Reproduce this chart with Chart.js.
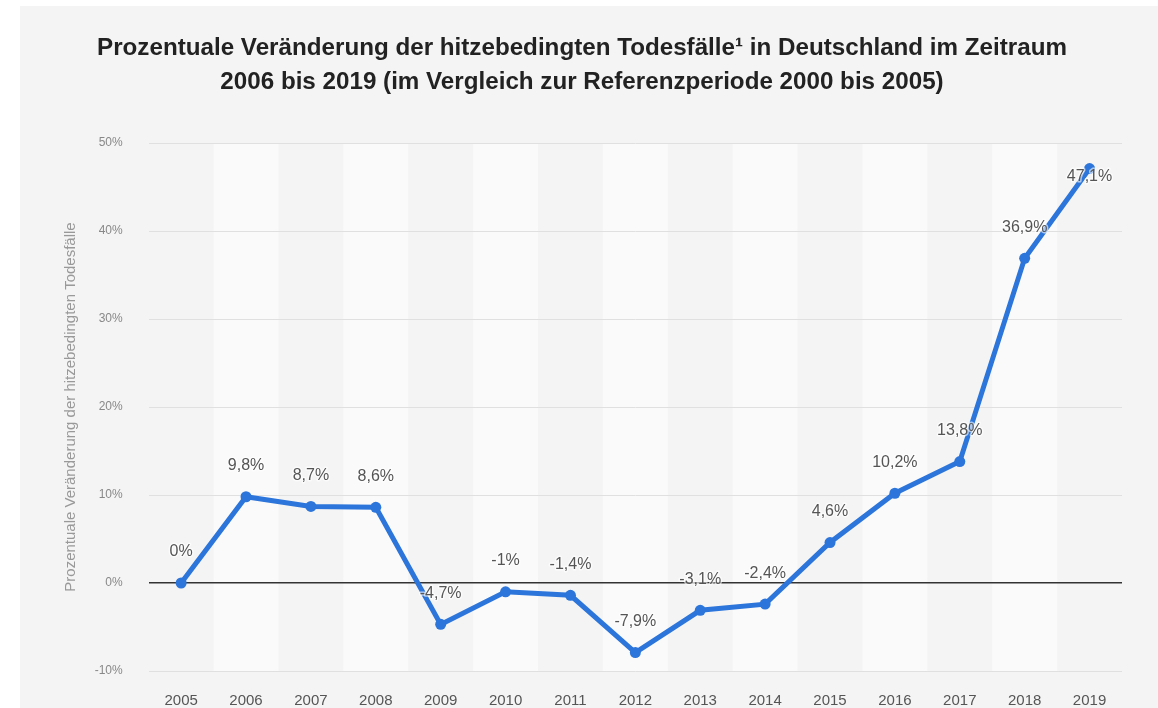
<!DOCTYPE html>
<html>
<head>
<meta charset="utf-8">
<script src="https://cdn.jsdelivr.net/npm/chart.js@4.4.0/dist/chart.umd.min.js"></script>
<style>
  html, body { margin: 0; padding: 0; background: #ffffff; }
  #wrap { width: 1158px; height: 708px; }
</style>
</head>
<body>
<div id="wrap"><canvas id="chart" width="1158" height="708"></canvas></div>
<script>
'use strict';

let years=['2005','2006','2007','2008','2009','2010','2011','2012','2013','2014','2015','2016','2017','2018','2019'];
let changes=[0,9.8,8.7,8.6,-4.7,-1,-1.4,-7.9,-3.1,-2.4,4.6,10.2,13.8,36.9,47.1];
let yTicks=[-10,0,10,20,30,40,50];

let titleLines=[
    'Prozentuale Veränderung der hitzebedingten Todesfälle¹ in Deutschland im Zeitraum',
    '2006 bis 2019 (im Vergleich zur Referenzperiode 2000 bis 2005)'
];
let yTitle='Prozentuale Veränderung der hitzebedingten Todesfälle';

let fontFam='"Liberation Sans", Arial, Helvetica, sans-serif';

function fmt(v)
{
    return String(v).replace('.',',')+'%';
}

// page background, title and alternating column bands
let backdrop={
    id:'backdrop',
    beforeDraw(chart)
    {
        let ctx=chart.ctx;
        let area=chart.chartArea;
        let x=chart.scales.x;
        ctx.save();
        ctx.fillStyle='#ffffff';
        ctx.fillRect(0,0,chart.width,chart.height);
        ctx.fillStyle='#f4f4f4';
        ctx.fillRect(20,6,chart.width-20,chart.height-6);

        ctx.fillStyle='#222222';
        ctx.font='bold 24.2px '+fontFam;
        ctx.textAlign='center';
        ctx.textBaseline='middle';
        ctx.fillText(titleLines[0],582,48);
        ctx.fillText(titleLines[1],582,82);

        let step=x.getPixelForValue(1)-x.getPixelForValue(0);
        ctx.fillStyle='#fafafa';
        for(let i=1;i<years.length;i+=2)
        {
            let cx=x.getPixelForValue(i);
            ctx.fillRect(cx-step/2,area.top,step,area.bottom-area.top);
        }
        ctx.restore();
    }
};

let valueLabels={
    id:'valueLabels',
    afterDatasetsDraw(chart)
    {
        let ctx=chart.ctx;
        let meta=chart.getDatasetMeta(0);
        ctx.save();
        ctx.font='16px '+fontFam;
        ctx.textAlign='center';
        ctx.textBaseline='middle';
        ctx.lineJoin='round';
        for(let i=0;i<meta.data.length;i++)
        {
            let pt=meta.data[i];
            let ly=pt.y-31;
            if(ly<chart.chartArea.top) ly=pt.y+8;
            let txt=fmt(changes[i]);
            ctx.strokeStyle='rgba(255,255,255,0.6)';
            ctx.lineWidth=3;
            ctx.strokeText(txt,pt.x,ly);
            ctx.fillStyle='#555555';
            ctx.fillText(txt,pt.x,ly);
        }
        ctx.restore();
    }
};

let ctx=document.getElementById('chart').getContext('2d');
let myChart=new Chart(ctx,{
    type:'line',
    data:{
        labels:years,
        datasets:[{
            data:changes,
            borderColor:'#2c75da',
            backgroundColor:'#2c75da',
            borderWidth:5,
            pointRadius:5.5,
            pointHoverRadius:5.5,
            pointBackgroundColor:'#2c75da',
            pointBorderWidth:0,
            tension:0,
            fill:false
        }]
    },
    options:{
        responsive:false,
        animation:false,
        layout:{padding:{left:0,right:36,top:143,bottom:0}},
        plugins:{
            legend:{display:false},
            tooltip:{enabled:false},
            title:{display:false}
        },
        scales:{
            x:{
                offset:true,
                grid:{display:false},
                border:{display:false},
                ticks:{
                    color:'#555555',
                    padding:13,
                    maxRotation:0,
                    font:{family:fontFam,size:15}
                },
                afterFit(scale){ scale.height=37; }
            },
            y:{
                min:-10,
                max:50,
                afterBuildTicks(scale){ scale.ticks=yTicks.map(v=>({value:v})); },
                border:{display:false},
                grid:{
                    drawTicks:false,
                    color:(c)=>c.tick&&c.tick.value===0?'#333333':'#e0e0e0',
                    lineWidth:(c)=>c.tick&&c.tick.value===0?1.5:1
                },
                ticks:{
                    color:'#888888',
                    padding:26,
                    font:{family:fontFam,size:12},
                    callback:(v)=>v+'%'
                },
                title:{
                    display:true,
                    text:yTitle,
                    color:'#999999',
                    padding:{top:62,bottom:0},
                    font:{family:fontFam,size:15}
                },
                afterFit(scale){ scale.width=148.7; }
            }
        }
    },
    plugins:[backdrop,valueLabels]
});
</script>
</body>
</html>
